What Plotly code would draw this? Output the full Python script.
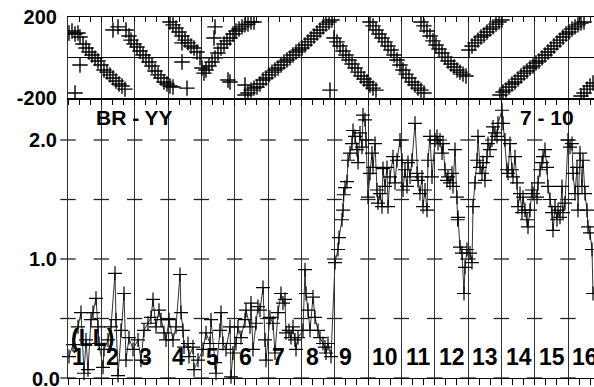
import plotly.graph_objects as go

# ---------------- data ----------------
seg_labels = [str(i) for i in range(1, 17)]
cross_levels = [0.0, 0.5, 1.0, 1.5, 2.0]
amp_ticks = [0.0, 1.0, 2.0]
amp_ticktext = ["0.0", "1.0", "2.0"]

amp_time = [
    0.03, 0.15, 0.30, 0.39, 0.48, 0.54, 0.60, 0.69, 0.75, 0.84, 0.90, 0.93,
    1.05, 1.08, 1.20, 1.29, 1.41, 1.44, 1.50, 1.59, 1.68, 1.74, 1.83, 1.95,
    2.10, 2.19, 2.28, 2.40, 2.49, 2.55, 2.64, 2.73, 2.79, 2.88, 2.94,
    3.03, 3.15, 3.24, 3.36, 3.39, 3.45, 3.48, 3.60, 3.63, 3.75, 3.78, 3.90,
    4.05, 4.14, 4.26, 4.29, 4.41, 4.44, 4.56, 4.59, 4.65, 4.74, 4.86, 4.89, 4.95,
    5.04, 5.10, 5.19, 5.31, 5.34, 5.46, 5.49, 5.55, 5.64, 5.70, 5.76, 5.85, 5.91, 5.94,
    6.06, 6.15, 6.21, 6.30, 6.39, 6.45, 6.51, 6.54, 6.63, 6.69, 6.75, 6.81, 6.84, 6.90,
    7.05, 7.11, 7.14, 7.20, 7.26, 7.35, 7.41, 7.50, 7.56, 7.65, 7.71, 7.74, 7.80, 7.89,
    8.01, 8.10, 8.13, 8.22, 8.25, 8.27, 8.31, 8.37, 8.40, 8.46, 8.52, 8.55, 8.61, 8.67,
    8.70, 8.76, 8.82, 8.85, 8.91, 8.94,
    9.00, 9.06, 9.12, 9.15, 9.21, 9.27, 9.30, 9.36, 9.42, 9.45, 9.51, 9.57, 9.60, 9.66,
    9.75, 9.81, 9.87, 9.96,
    10.02, 10.05, 10.11, 10.17, 10.20, 10.26, 10.32, 10.41, 10.47, 10.50, 10.56, 10.62,
    10.65, 10.71, 10.77, 10.80, 10.86, 10.92,
    11.01, 11.07, 11.10, 11.16, 11.22, 11.25, 11.31, 11.37, 11.40, 11.46, 11.52, 11.55,
    11.61, 11.67, 11.69, 11.70, 11.76, 11.82, 11.88, 11.91, 11.97,
    12.06, 12.12, 12.15, 12.21, 12.27, 12.30, 12.36, 12.42, 12.45, 12.51, 12.57, 12.60,
    12.66, 12.72, 12.75, 12.81, 12.87, 12.90,
    13.02, 13.05, 13.11, 13.17, 13.20, 13.26, 13.32, 13.35, 13.41, 13.47, 13.50, 13.56,
    13.62, 13.65, 13.71, 13.77, 13.80, 13.86, 13.92, 13.95,
    14.07, 14.10, 14.16, 14.22, 14.25, 14.31, 14.37, 14.40, 14.46, 14.52, 14.55, 14.61,
    14.67, 14.70, 14.76, 14.82, 14.85, 14.91,
    15.00, 15.06, 15.12, 15.15, 15.21, 15.27, 15.30, 15.36, 15.42, 15.45, 15.51, 15.57,
    15.60, 15.66, 15.72, 15.75,
]
amp_val = [
    0.18, 0.28, 0.43, 0.55, 0.04, 0.32, 0.07, 0.49, 0.55, 0.67, 0.43, 0.29,
    0.09, 0.24, 0.32, 0.43, 0.88, 0.49, 0.02, 0.40, 0.71, 0.15, 0.34, 0.24,
    0.32, 0.15, 0.40, 0.46, 0.51, 0.66, 0.43, 0.57, 0.49, 0.38, 0.32,
    0.49, 0.32, 0.43, 0.87, 0.55, 0.40, 0.26, 0.29, 0.18, 0.26, 0.07, 0.15,
    0.24, 0.38, 0.29, 0.49, 0.13, 0.04, 0.40, 0.55, 0.29, 0.24, 0.43, 0.01, 0.21,
    0.29, 0.43, 0.34, 0.49, 0.57, 0.43, 0.63, 0.24, 0.46, 0.60, 0.57, 0.76, 0.32, 0.15,
    0.51, 0.46, 0.21, 0.55, 0.71, 0.63, 0.66, 0.38, 0.40, 0.34, 0.43, 0.32, 0.24, 0.34,
    0.40, 0.91, 0.71, 0.57, 0.40, 0.68, 0.51, 0.40, 0.34, 0.29, 0.26, 0.21, 0.29, 0.18,
    0.97, 1.08, 1.18, 1.33, 1.41, 1.54, 1.60, 1.65, 1.83, 1.89, 1.97, 2.08, 2.03, 1.92,
    1.81, 2.06, 1.94, 2.21, 2.17, 2.00,
    1.52, 1.72, 1.89, 1.77, 1.97, 1.58, 1.47, 1.55, 1.44, 1.76, 1.61, 1.77, 1.44, 1.69,
    1.86, 1.64, 1.83, 2.00,
    1.83, 1.58, 1.75, 1.61, 1.81, 1.69, 1.83, 2.14, 1.72, 1.66, 1.55, 1.69,
    1.44, 1.58, 1.41, 1.83, 2.03, 1.69,
    2.00, 2.03, 1.97, 2.00, 1.89, 1.97, 1.75, 1.66, 1.69, 1.64, 1.72, 1.61,
    1.92, 1.52, 1.33, 1.35, 1.10, 1.05, 0.71, 0.93, 1.08,
    1.05, 0.97, 1.44, 1.64, 1.83, 2.03, 1.77, 1.72, 1.81, 1.66, 1.86, 1.97,
    1.92, 2.00, 2.11, 2.06, 2.03, 2.14,
    2.25, 2.14, 2.00, 1.75, 1.72, 1.97, 1.75, 1.69, 1.86, 1.64, 1.44, 1.55,
    1.39, 1.52, 1.41, 1.33, 1.27, 1.41, 1.58, 1.55,
    1.52, 1.64, 1.75, 1.81, 1.86, 1.92, 1.77, 1.61, 1.50, 1.39, 1.24, 1.44,
    1.33, 1.41, 1.35, 1.61, 1.39, 1.47,
    2.00, 1.94, 1.97, 1.72, 1.55, 1.77, 1.41, 1.89, 1.61, 1.83, 1.55, 1.41,
    1.27, 1.22, 1.08, 0.71,
]

phase_time = [
    0.03, 0.12, 0.21, 0.30, 0.36, 0.45, 0.54, 0.63, 0.72, 0.81, 0.90, 0.99, 1.08, 1.17,
    1.26, 1.35, 1.44, 1.53, 1.62, 1.71, 0.36, 0.21, 1.50, 1.35,
    1.74, 1.83, 1.89, 1.98, 2.07, 2.16, 2.25, 2.34, 2.43, 2.52, 2.61, 2.70, 2.79, 2.88,
    2.97, 3.06, 3.15, 3.57, 3.42, 3.42,
    3.06, 3.15, 3.24, 3.33, 3.42, 3.51, 3.60, 3.69, 3.78, 3.87, 3.96, 4.02,
    4.08, 4.14, 4.23, 4.32, 4.41, 4.50, 4.59, 4.68, 4.77, 4.86, 4.95, 5.04, 5.13, 5.22,
    5.31, 5.40, 5.49, 5.58, 4.41, 4.38, 4.86, 4.80,
    5.31, 5.40, 5.49, 5.58, 5.67, 5.76, 5.85, 5.94, 6.03, 6.12, 6.21, 6.30, 6.39, 6.48,
    6.57, 6.66, 6.75, 6.84, 6.93, 7.02, 7.11, 7.20, 7.29, 7.38, 7.47, 7.56, 7.65, 7.74,
    7.83, 7.92, 7.86, 5.31,
    7.98, 8.07, 8.16, 8.25, 8.34, 8.43, 8.52, 8.61, 8.70, 8.79, 8.88, 8.97, 9.06, 9.15, 9.24,
    9.06, 9.15, 9.24, 9.33, 9.42, 9.51, 9.60, 9.69, 9.78, 9.87, 9.96, 10.05, 10.14, 10.23,
    10.32, 10.41, 10.50, 10.59, 10.68,
    10.59, 10.68, 10.77, 10.86, 10.95, 11.04, 11.13, 11.22, 11.31, 11.40, 11.49, 11.58,
    11.67, 11.76, 11.85, 11.94,
    12.03, 12.12, 12.21, 12.30, 12.39, 12.48, 12.57, 12.66, 12.75, 12.84, 12.93, 13.02,
    12.96, 13.05, 13.14, 13.23, 13.32, 13.41, 13.50, 13.59, 13.68, 13.77, 13.86, 13.95,
    14.04, 14.13, 14.22, 14.31, 14.40, 14.49, 14.58, 14.67, 14.76, 14.85, 14.94, 15.03,
    15.12, 15.21, 15.30, 15.39, 15.48,
    15.39, 15.48, 15.57, 15.66, 15.75,
]
phase_deg = [
    121, 131, 116, 121, 101, 67, 47, 27, 12, -3, -17, -37, -62, -72,
    -86, -101, -116, -131, -141, -156, -37, -175, 151, 136,
    136, 106, 86, 67, 52, 32, 12, -2, -22, -42, -67, -86, -101, -121,
    -131, -141, -146, -151, 72, -22,
    175, 161, 146, 126, 106, 86, 72, 57, 47, 27, -2, -52,
    -77, -62, -42, -22, -2, 22, 47, 67, 82, 96, 116, 131, 141, 151,
    161, 165, 175, 175, 151, 96, -121, -111,
    -185, -175, -161, -151, -146, -131, -111, -101, -86, -72, -62, -52, -37, -22,
    -12, -2, 12, 27, 37, 47, 62, 77, 91, 106, 121, 136, 151, 165,
    175, 185, -161, -136,
    96, 77, 57, 32, 12, -12, -32, -52, -72, -91, -106, -121, -136, -151, -161,
    175, 156, 136, 116, 96, 77, 57, 37, 12, -12, -37, -62, -82, -101,
    -121, -136, -151, -161, -175,
    175, 156, 131, 106, 82, 62, 42, 22, 2, -17, -32, -47,
    -62, -72, -82, -91,
    37, 57, 72, 86, 101, 111, 126, 141, 151, 165, 175, 185,
    -185, -170, -161, -146, -131, -121, -106, -91, -77, -67, -52, -42,
    -27, -17, -2, 12, 27, 42, 57, 72, 86, 101, 116, 126,
    141, 151, 161, 170, 175,
    -190, -175, -156, -141, -126,
]

# ---------------- figure ----------------
FONT = "Liberation Sans"
XMAX = 15.78
split = 0.7756

fig = go.Figure()

# grid crosses on the vertical separators (lower panel)
cx = [i for i in range(len(seg_labels)) for _ in cross_levels]
cy = [lv for _ in range(len(seg_labels)) for lv in cross_levels]
fig.add_trace(go.Scatter(
    x=cx, y=cy, xaxis="x", yaxis="y", mode="markers", cliponaxis=False,
    marker=dict(symbol="line-ew", size=11, line=dict(color="#222", width=1.3)),
    hoverinfo="skip", showlegend=False))

fig.add_trace(go.Scatter(
    x=amp_time, y=amp_val, xaxis="x", yaxis="y", mode="lines+markers",
    cliponaxis=False,
    line=dict(color="#333", width=1),
    marker=dict(symbol="cross-thin", size=10, line=dict(color="#000", width=1.2)),
    showlegend=False))

fig.add_trace(go.Scatter(
    x=phase_time, y=phase_deg, xaxis="x2", yaxis="y2", mode="markers",
    marker=dict(symbol="cross-thin", size=11, line=dict(color="#000", width=1.4)),
    showlegend=False))

fig.add_trace(go.Scatter(x=[None], y=[None], xaxis="x3", yaxis="y2",
                         showlegend=False, hoverinfo="skip"))

common_x = dict(range=[0, XMAX], tick0=0, dtick=1, showticklabels=False,
                zeroline=False, tickcolor="#000", automargin=False)
minor_out = dict(tick0=0, dtick=1/3, ticks="outside", ticklen=6,
                 tickcolor="#000", showgrid=False)
minor_in = dict(tick0=0, dtick=1/3, ticks="inside", ticklen=5,
                tickcolor="#000", showgrid=False)

tick_font = dict(family=FONT, size=20, color="#000", weight="bold")

fig.update_layout(
    width=594, height=387,
    margin=dict(l=68, r=0, t=17, b=9, pad=0, autoexpand=False),
    paper_bgcolor="white", plot_bgcolor="white",
    showlegend=False,
    xaxis=dict(common_x, anchor="y", domain=[0, 1], showgrid=True,
               gridcolor="#333", gridwidth=1.2, showline=True,
               linecolor="#000", linewidth=1.3, ticks="outside", ticklen=6,
               minor=minor_out),
    yaxis=dict(domain=[0, split], range=[0, 2.353], tickvals=amp_ticks[1:],
               ticktext=amp_ticktext[1:], ticks="", showgrid=False,
               zeroline=False, showline=True, linecolor="#333", linewidth=1.2,
               tickfont=tick_font, ticklabelstandoff=6, automargin=False),
    xaxis2=dict(common_x, anchor="y2", showgrid=True, gridcolor="#333",
                gridwidth=1.2, showline=True, linecolor="#000", linewidth=1.5,
                ticks="outside", ticklen=5, minor=dict(minor_out, ticklen=5)),
    xaxis3=dict(common_x, anchor="y2", overlaying="x2", side="top",
                showgrid=False, showline=True, linecolor="#000", linewidth=1.3,
                ticks="inside", ticklen=5, minor=minor_in),
    yaxis2=dict(domain=[split, 1], range=[-200, 200], tickvals=[-200, 0, 200],
                ticktext=["-200", "", "200"], ticks="", showgrid=True,
                gridcolor="#000", gridwidth=1.2, zeroline=False, showline=True,
                linecolor="#333", linewidth=1.2, tickfont=tick_font,
                ticklabelstandoff=6, automargin=False),
)

ann_font = dict(family=FONT, size=21, color="#000", weight="bold")
annotations = []
# bottom amplitude tick label (the axis drops its edge label)
annotations.append(dict(x=0, y=amp_ticks[0], xref="paper", yref="y",
                        text=amp_ticktext[0], showarrow=False, xanchor="right",
                        yanchor="middle", xshift=-6, yshift=-1,
                        font=tick_font))
for i, lab in enumerate(seg_labels):
    annotations.append(dict(x=i + 0.07, y=0.18, xref="x", yref="y", text=lab,
                            showarrow=False, xanchor="left", yanchor="middle",
                            font=dict(ann_font, size=23)))
annotations.append(dict(x=2.0, y=2.19, xref="x", yref="y", text="BR - YY",
                        showarrow=False, xanchor="center", yanchor="middle",
                        font=ann_font))
annotations.append(dict(x=14.37, y=2.19, xref="x", yref="y", text="7 - 10",
                        showarrow=False, xanchor="center", yanchor="middle",
                        font=ann_font))
annotations.append(dict(x=0.72, y=0.34, xref="x", yref="y", text="(LL)",
                        showarrow=False, xanchor="center", yanchor="middle",
                        font=dict(ann_font, size=23)))
fig.update_layout(annotations=annotations)

fig.write_html("out.html",
               config={"displayModeBar": False},
               post_script="document.body.style.margin='0px';"
                           "document.body.style.overflow='hidden';")
